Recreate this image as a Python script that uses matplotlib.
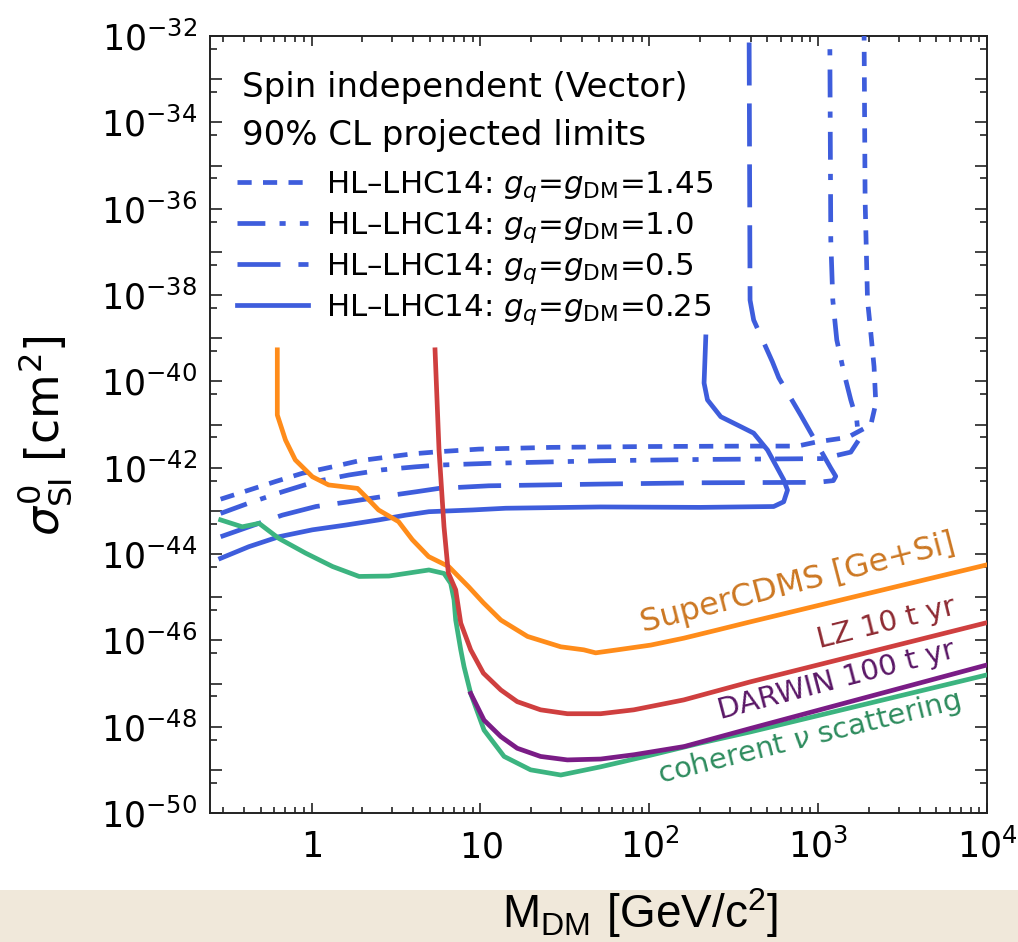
import numpy as np
import matplotlib
matplotlib.use("Agg")
import matplotlib.pyplot as plt
from matplotlib.patches import Rectangle
from matplotlib.ticker import FixedLocator, FixedFormatter, NullFormatter

plt.rcParams['font.family'] = ['DejaVu Sans']
plt.rcParams['mathtext.fontset'] = 'dejavusans'

# ---------------- data: DM mass [GeV] and log10(sigma_SI / cm^2) ----------------
# HL-LHC14 projected limits, vector mediator
g145_m = [0.289, 0.425, 0.612, 0.881, 1.33, 1.91, 2.74, 3.95, 5.68, 9.8, 26, 102, 398,
          754, 991, 1492, 2051, 2195, 2143, 2051, 1960, 1897, 1871]
g145_logs = [-42.73, -42.52, -42.32, -42.13, -41.98, -41.84, -41.76, -41.68, -41.63, -41.57,
             -41.53, -41.51, -41.50, -41.50, -41.40, -41.30, -41.01, -40.51, -39.66, -38.88,
             -38.12, -35.80, -32.0]

g10_m = [0.289, 0.425, 0.67, 1.06, 1.66, 2.62, 4.13, 5.68, 11.2, 51.5, 201, 1065, 1560,
         1738, 1693, 1560, 1423, 1289, 1221, 1188, 1172]
g10_logs = [-43.06, -42.82, -42.56, -42.32, -42.17, -42.05, -41.98, -41.94, -41.90, -41.84,
            -41.81, -41.79, -41.64, -41.36, -40.90, -40.43, -39.81, -39.04, -38.12, -36.73,
            -32.0]

g05_m = [0.289, 0.425, 0.67, 1.06, 1.66, 2.62, 4.13, 5.68, 11.2, 51.5, 201, 991, 1230,
         1271, 1188, 788, 585, 536, 415, 395, 390]
g05_logs = [-43.60, -43.37, -43.10, -42.90, -42.79, -42.67, -42.56, -42.48, -42.42, -42.38,
            -42.35, -42.34, -42.30, -42.20, -42.01, -40.78, -39.92, -39.55, -38.58, -38.12,
            -32.0]

g025_m = [0.289, 0.425, 0.64, 1.01, 1.59, 2.50, 3.60, 4.95, 8.96, 14.1, 51.5, 201, 545,
          625, 658, 625, 501, 415, 348, 265, 221, 211, 216]
g025_logs = [-44.10, -43.83, -43.60, -43.44, -43.33, -43.21, -43.10, -43.02, -42.98, -42.94,
             -42.91, -42.92, -42.90, -42.79, -42.52, -42.28, -41.59, -41.20, -41.05, -40.82,
             -40.43, -40.04, -38.97]

# direct detection projections
supercdms_m = [0.626, 0.626, 0.70, 0.80, 1.01, 1.26, 1.87, 2.09, 2.49, 3.27, 3.95, 4.93,
               6.48, 8.51, 10.4, 13.2, 19.0, 29.9, 40.9, 48.1, 64.7, 102, 160, 253, 398, 1e4]
supercdms_logs = [-39.27, -40.78, -41.36, -41.82, -42.21, -42.40, -42.48, -42.67, -42.98,
                  -43.25, -43.67, -44.06, -44.29, -44.76, -45.13, -45.53, -45.91, -46.15,
                  -46.22, -46.29, -46.22, -46.11, -45.95, -45.76, -45.57, -44.25]

lz_m = [5.38, 5.68, 6.08, 6.45, 7.13, 7.64, 8.75, 10.4, 13.2, 16.5, 22.7, 32.7, 51.5, 80.9,
        160, 398, 1e4]
lz_logs = [-39.27, -41.59, -43.37, -44.44, -44.83, -45.60, -46.22, -46.76, -47.15, -47.42,
           -47.61, -47.70, -47.70, -47.61, -47.38, -46.96, -45.59]

darwin_m = [8.75, 10.5, 13.2, 16.5, 22.7, 32.7, 51.5, 81.2, 161, 398, 1e4]
darwin_logs = [-47.23, -47.85, -48.23, -48.50, -48.69, -48.77, -48.75, -48.65, -48.46,
               -48.04, -46.57]

nu_m = [0.289, 0.388, 0.488, 0.64, 0.921, 1.33, 1.91, 2.87, 4.95, 6.08, 6.66, 6.97, 7.13,
        7.64, 7.99, 8.75, 10.5, 13.8, 19.8, 29.9, 51.5, 102, 201, 398, 1e4]
nu_logs = [-43.21, -43.37, -43.29, -43.64, -43.98, -44.29, -44.52, -44.51, -44.37, -44.45,
           -44.68, -45.06, -45.53, -46.22, -46.61, -47.23, -48.08, -48.69, -49.00, -49.12,
           -48.93, -48.66, -48.38, -48.12, -46.80]

lhc_labels = [r'HL–LHC14: $g_q$=$g_{\mathrm{DM}}$=1.45',
              r'HL–LHC14: $g_q$=$g_{\mathrm{DM}}$=1.0',
              r'HL–LHC14: $g_q$=$g_{\mathrm{DM}}$=0.5',
              r'HL–LHC14: $g_q$=$g_{\mathrm{DM}}$=0.25']

x_major = [1, 10, 100, 1000, 10000]
x_major_labels = ['$1$', '$10$', '$10^{2}$', '$10^{3}$', '$10^{4}$']
y_exponents = list(range(-50, -31))

# ---------------- figure ----------------
W, H = 1018, 942
fig = plt.figure(figsize=(W / 100, H / 100), dpi=100)
fig.patch.set_facecolor('white')
fig.patches.append(Rectangle((0, 0), 1, (H - 890) / H, transform=fig.transFigure,
                             facecolor='#f0e8da', edgecolor='none', zorder=-5))

ax = fig.add_axes([210 / W, 1 - 813 / H, 777 / W, 777 / H])
ax.set_xscale('log')
ax.set_yscale('log')
ax.set_xlim(0.25, 1e4)
ax.set_ylim(1e-50, 1e-32)

BLUE = '#3e5ddc'
LW = 3.4

def sig(logs):
    return 10.0 ** np.asarray(logs)

ax.plot(g145_m, sig(g145_logs), color=BLUE, lw=LW, dashes=(3.0, 2.4), label=lhc_labels[0], zorder=3)
ax.plot(g10_m, sig(g10_logs), color=BLUE, lw=LW, dashes=(5.9, 3.0, 1.3, 3.0), label=lhc_labels[1], zorder=3)
ax.plot(g05_m, sig(g05_logs), color=BLUE, lw=LW, dashes=(9.1, 3.8), label=lhc_labels[2], zorder=3)
ax.plot(g025_m, sig(g025_logs), color=BLUE, lw=LW, label=lhc_labels[3], zorder=3)

ax.plot(nu_m, sig(nu_logs), color='#3cb480', lw=LW, zorder=4)
ax.plot(darwin_m, sig(darwin_logs), color='#7a1c86', lw=LW, zorder=5)
ax.plot(supercdms_m, sig(supercdms_logs), color='#ff8c1a', lw=LW, zorder=4)
ax.plot(lz_m, sig(lz_logs), color='#cf3f3f', lw=LW, zorder=6)

# curve annotations
ax.text(760, 10 ** -44.69, 'SuperCDMS [Ge+Si]', color='#cc7722', fontsize=23,
        rotation=14.5, rotation_mode='anchor', ha='center', va='center')
ax.text(2530, 10 ** -45.60, 'LZ 10 t yr', color='#8e2a32', fontsize=21,
        rotation=14.0, rotation_mode='anchor', ha='center', va='center')
ax.text(1280, 10 ** -46.94, 'DARWIN 100 t yr', color='#5a1766', fontsize=21,
        rotation=14.7, rotation_mode='anchor', ha='center', va='center')
ax.text(885, 10 ** -48.26, r'coherent $\nu$ scattering', color='#2e8c5e', fontsize=21,
        rotation=14.0, rotation_mode='anchor', ha='center', va='center')

# header and legend
ax.text(0.0408, 0.922, 'Spin independent (Vector)', transform=ax.transAxes,
        fontsize=24.5, ha='left', va='baseline')
ax.text(0.0408, 0.860, '90% CL projected limits', transform=ax.transAxes,
        fontsize=24.5, ha='left', va='baseline')
ax.legend(loc='upper left', bbox_to_anchor=(0.0347, 0.829), frameon=False,
          fontsize=22.2, handlelength=2.3, handletextpad=0.6, labelspacing=0.2,
          borderpad=0, borderaxespad=0)

# ticks
ax.xaxis.set_major_locator(FixedLocator(x_major))
ax.xaxis.set_major_formatter(FixedFormatter(x_major_labels))
x_minor = [m * 10.0 ** d for d in range(-1, 4) for m in range(2, 10) if m * 10.0 ** d >= 0.25]
ax.xaxis.set_minor_locator(FixedLocator(x_minor))
ax.xaxis.set_minor_formatter(NullFormatter())

ax.yaxis.set_major_locator(FixedLocator([10.0 ** e for e in y_exponents]))
ax.yaxis.set_major_formatter(FixedFormatter(
    ['$10^{%d}$' % e if e % 2 == 0 else '' for e in y_exponents]))
ax.yaxis.set_minor_locator(FixedLocator([5 * 10.0 ** e for e in range(-51, -32)]))
ax.yaxis.set_minor_formatter(NullFormatter())

for s in ax.spines.values():
    s.set_linewidth(1.4)
    s.set_color('#222222')
ax.tick_params(which='both', direction='in', top=True, right=True, width=1.2, color='#222222')
ax.tick_params(axis='y', which='major', length=8.6, labelsize=25, pad=9)
ax.tick_params(axis='y', which='minor', length=5)
ax.tick_params(axis='x', which='major', length=7.5, labelsize=25, pad=32)
ax.tick_params(axis='x', which='minor', length=4)
for lbl in ax.get_xticklabels():
    lbl.set_verticalalignment('baseline')

ax.set_ylabel(r'$\sigma^{0}_{\mathrm{SI}}$ [cm$^{2}$]', fontsize=33)
ax.yaxis.label.set_verticalalignment('center')
ax.yaxis.set_label_coords(-0.2124, 0.485)

ax.set_xlabel(r'$\mathregular{M_{DM}\ [GeV/c^{2}]}$', fontsize=33,
              family=['Liberation Sans Narrow', 'Liberation Sans'])
ax.xaxis.label.set_verticalalignment('baseline')
ax.xaxis.set_label_coords(0.553, -0.1475)

fig.savefig('out.png', dpi=100, facecolor=fig.get_facecolor())
